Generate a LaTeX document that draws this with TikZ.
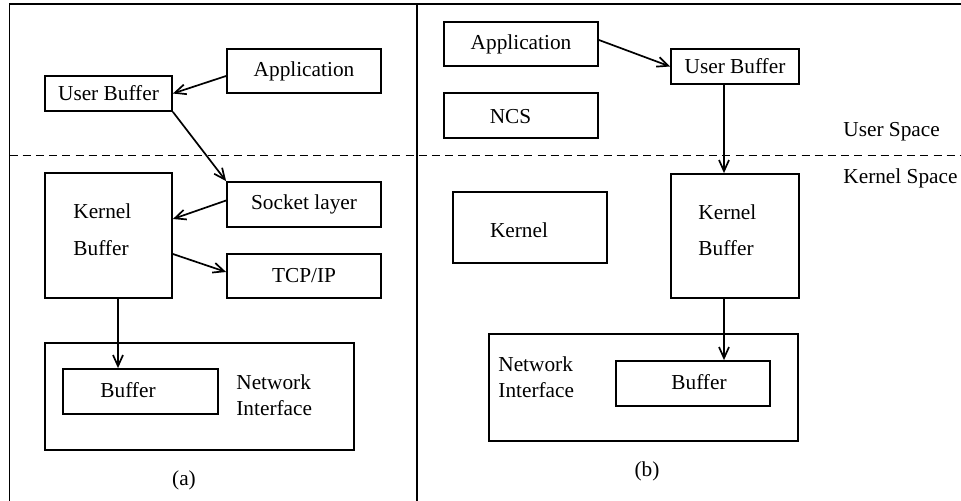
\documentclass[tikz,border=0pt]{standalone}
\usepackage{fontspec}
\setmainfont{Liberation Serif}
\usetikzlibrary{arrows.meta,calc}
\begin{document}
\begin{tikzpicture}[x=0.5pt,y=-0.5pt,
  box/.style={draw,line width=0.9pt,inner sep=0pt,font=\fontsize{10.65}{13}\selectfont},
  txt/.style={inner sep=0pt,font=\fontsize{10.65}{13}\selectfont},
  arr/.style={line width=0.85pt,-{Straight Barb[length=5.5pt,width=5pt,line width=0.85pt]}},
  frame/.style={line width=0.9pt}]
\useasboundingbox (0,0) rectangle (961,501);
% frame
\draw[frame] (961,4) -- (9.5,4) -- (9.5,501);
\draw[frame] (417,4) -- (417,501);
\draw[line width=0.9pt,dash pattern=on 4pt off 2.6pt] (9.5,155.5) -- (961,155.5);
% ---- panel (a)
\node[box,minimum width=77pt,minimum height=22pt] (appA) at (304,71) {Application};
\node[box,minimum width=63.5pt,minimum height=17.5pt] (ubA) at (108.5,93.5) {User Buffer};
\node[box,minimum width=77pt,minimum height=22.5pt] (sockA) at (304,204.5) {Socket layer};
\node[box,minimum width=63.5pt,minimum height=62.5pt] (kbA) at (108.5,235.5) {};
\node[txt,anchor=west] (kbAt1) at (73,211) {Kernel};
\node[txt,anchor=west] (kbAt2) at (73,248) {Buffer};
\node[box,minimum width=77pt,minimum height=22pt] (tcpA) at (304,276) {TCP/IP};
\node[box,minimum width=154.5pt,minimum height=53.5pt] (niA) at (199.5,396.5) {};
\node[box,minimum width=77.5pt,minimum height=22.5pt] (bufA) at (140.5,391.5) {};
\node[txt] (bufAt) at (128,390) {Buffer};
\node[txt,anchor=west,align=left] (niAt) at (236,395) {Network\\Interface};
\node[txt] (capA) at (184,480) {(a)};
\draw[arr] ([yshift=-2.5pt]appA.west) -- (ubA.east);
\draw[arr] (ubA.south east) -- (sockA.north west);
\draw[arr] ([yshift=2pt]sockA.west) -- ([yshift=8.25pt]kbA.east);
\draw[arr] ([yshift=-9.25pt]kbA.east) -- ([yshift=2pt]tcpA.west);
\draw[arr] ([xshift=4.75pt]kbA.south) -- ([xshift=4.75pt]kbA.south |- bufA.north);
% ---- panel (b)
\node[box,minimum width=77pt,minimum height=22pt] (appB) at (521,44) {Application};
\node[box,minimum width=64pt,minimum height=17.5pt] (ubB) at (735,66.5) {User Buffer};
\node[box,minimum width=77pt,minimum height=22.5pt] (ncsB) at (521,115.5) {};
\node[txt] (ncsBt) at (510.5,117) {NCS};
\node[box,minimum width=77pt,minimum height=35.5pt] (kernB) at (530,227.5) {};
\node[txt] (kernBt) at (519,230) {Kernel};
\node[box,minimum width=64pt,minimum height=62pt] (kbB) at (735,236) {};
\node[txt,anchor=west] (kbBt1) at (698,212) {Kernel};
\node[txt,anchor=west] (kbBt2) at (698,248) {Buffer};
\node[box,minimum width=154.5pt,minimum height=53.5pt] (niB) at (643.5,387.5) {};
\node[box,minimum width=77pt,minimum height=22.5pt] (bufB) at (693,383.5) {};
\node[txt] (bufBt) at (699,382) {Buffer};
\node[txt,anchor=west,align=left] (niBt) at (498,377) {Network\\Interface};
\node[txt] (capB) at (647,471) {(b)};
\node[txt,anchor=west] (us) at (843,132) {User Space};
\node[txt,anchor=west] (ks) at (843,178) {Kernel Space};
\draw[arr] ([yshift=2pt]appB.east) -- (ubB.west);
\draw[arr] ([xshift=-5.5pt]ubB.south) -- ([xshift=-5.5pt]ubB.south |- kbB.north);
\draw[arr] ([xshift=-5.5pt]kbB.south) -- ([xshift=-5.5pt]kbB.south |- bufB.north);
\end{tikzpicture}
\end{document}
